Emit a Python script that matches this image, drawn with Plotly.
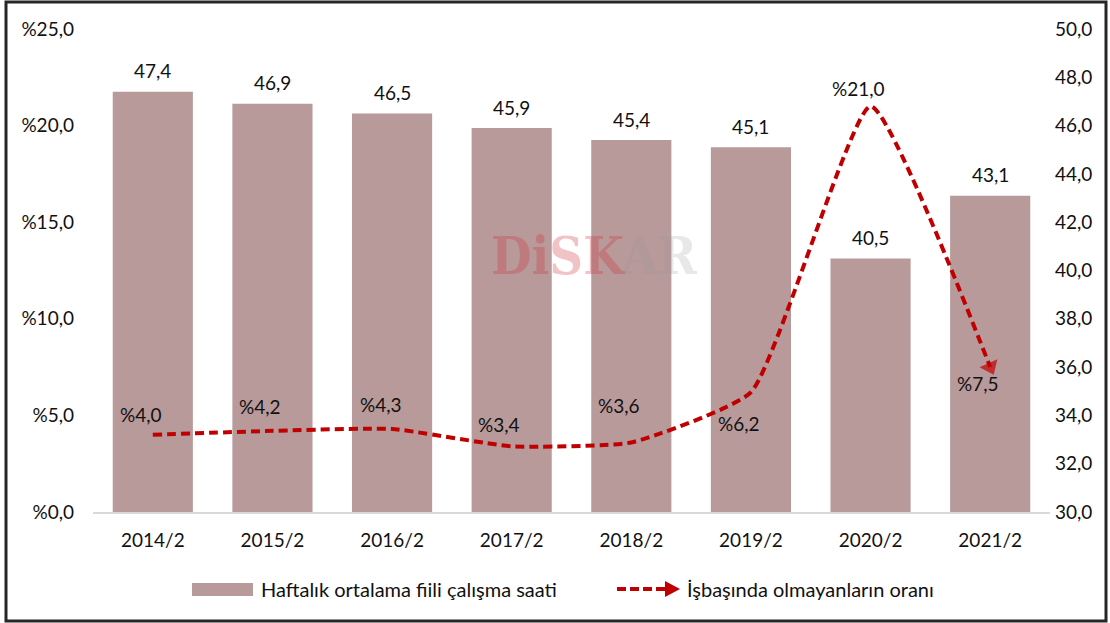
import plotly.graph_objects as go

periods = ["2014/2", "2015/2", "2016/2", "2017/2", "2018/2", "2019/2", "2020/2", "2021/2"]
weekly_hours = [47.4, 46.9, 46.5, 45.9, 45.4, 45.1, 40.5, 43.1]
absent_rate = [4.0, 4.2, 4.3, 3.4, 3.6, 6.2, 21.0, 7.5]

# label offsets (pixels) for the rate labels around each point
rate_label_dx = [-12, -12, -11, -13, -12, -12, -12, -12]
rate_label_dy = [20, 24, 24, 22, 37, -31, 18, -16]

FONT = "Lato"
FS = 19
BAR_COLOR = "#B99A9A"
LINE_COLOR = "#C00000"

# plot-area geometry in pixels, used to place the hand-drawn legend and frame
L, R, T, B = 93, 1050, 29, 512


def px(x):
    return (x - L) / (R - L)


def py(y):
    return (B - y) / (B - T)


fig = go.Figure()

fig.add_trace(go.Bar(
    x=periods, y=weekly_hours, yaxis="y",
    name="Haftalık ortalama fiili çalışma saati",
    marker=dict(color=BAR_COLOR, line=dict(width=0)),
    showlegend=False,
))

n = len(absent_rate)
fig.add_trace(go.Scatter(
    x=periods, y=absent_rate, yaxis="y2",
    name="İşbaşında olmayanların oranı",
    mode="lines+markers",
    line=dict(color=LINE_COLOR, width=4, dash="9px,5px", shape="spline", smoothing=0.45),
    marker=dict(symbol="triangle-up", angleref="previous",
                size=[0] * (n - 1) + [17], color=LINE_COLOR, line=dict(width=0)),
    cliponaxis=False, showlegend=False,
))

# value labels above the bars
for p, v in zip(periods, weekly_hours):
    fig.add_annotation(
        x=p, y=v, xref="x", yref="y", showarrow=False, yanchor="middle",
        text=f"{v:.1f}".replace(".", ","), yshift=21,
        font=dict(size=FS, color="#111", family=FONT),
    )

# rate labels near the line points
for p, v, dx, dy in zip(periods, absent_rate, rate_label_dx, rate_label_dy):
    fig.add_annotation(
        x=p, y=v, xref="x", yref="y2", showarrow=False,
        text="%" + f"{v:.1f}".replace(".", ","),
        xshift=dx, yshift=dy,
        font=dict(size=FS, color="#111", family=FONT),
    )

# watermark
fig.add_annotation(
    x=px(594), y=py(256), xref="paper", yref="paper", showarrow=False,
    text=("<b><span style='color:rgba(205,40,50,0.28)'>DiSK</span>"
          "<span style='color:rgba(150,150,150,0.22)'>AR</span></b>"),
    font=dict(size=52, family="DejaVu Serif Condensed"),
)

# legend: bar swatch + label
ly = 589
fig.add_shape(type="rect", xref="paper", yref="paper",
              x0=px(192), x1=px(253), y0=py(596), y1=py(583),
              fillcolor=BAR_COLOR, line=dict(width=0))
fig.add_annotation(x=px(259), y=py(ly), xref="paper", yref="paper", showarrow=False,
                   xanchor="left", yanchor="middle",
                   text="Haftalık ortalama fiili çalışma saati",
                   font=dict(size=FS + 1, color="#111", family=FONT))
# legend: dashed arrow + label
fig.add_shape(type="line", xref="paper", yref="paper",
              x0=px(617), x1=px(666), y0=py(ly), y1=py(ly),
              line=dict(color=LINE_COLOR, width=4, dash="9px,4px"))
fig.add_shape(type="path", xref="paper", yref="paper",
              path=(f"M {px(665)},{py(ly - 8)} L {px(680)},{py(ly)} "
                    f"L {px(665)},{py(ly + 8)} Z"),
              fillcolor=LINE_COLOR, line=dict(width=0))
fig.add_annotation(x=px(685), y=py(ly), xref="paper", yref="paper", showarrow=False,
                   xanchor="left", yanchor="middle",
                   text="İşbaşında olmayanların oranı",
                   font=dict(size=FS + 1, color="#111", family=FONT))

# outer frame
fig.add_shape(type="rect", xref="paper", yref="paper",
              x0=px(6), x1=px(1106), y0=py(621), y1=py(2),
              line=dict(color="#262626", width=3), fillcolor="rgba(0,0,0,0)", layer="above")

fig.update_layout(
    width=1110, height=623,
    margin=dict(l=L, r=1110 - R, t=T, b=623 - B),
    paper_bgcolor="white", plot_bgcolor="white",
    separators=",.",
    font=dict(family=FONT, size=FS, color="#111"),
    bargap=0.33,
    showlegend=False,
    xaxis=dict(showgrid=False, showline=True, linecolor="#D9D9D9", linewidth=1.5,
               ticks="", tickfont=dict(size=FS), ticklabelstandoff=10, fixedrange=True),
    yaxis=dict(side="right", range=[30, 50], dtick=2, tickformat=".1f",
               showgrid=False, zeroline=False, showline=False, ticks="",
               tickfont=dict(size=FS), ticklabelstandoff=4, fixedrange=True),
    yaxis2=dict(side="left", overlaying="y", range=[0, 25], dtick=5, tickformat=".1f",
                tickprefix="%", showgrid=False, zeroline=False, showline=False, ticks="",
                tickfont=dict(size=FS), ticklabelstandoff=18, fixedrange=True),
)

fig.write_html("out.html")
